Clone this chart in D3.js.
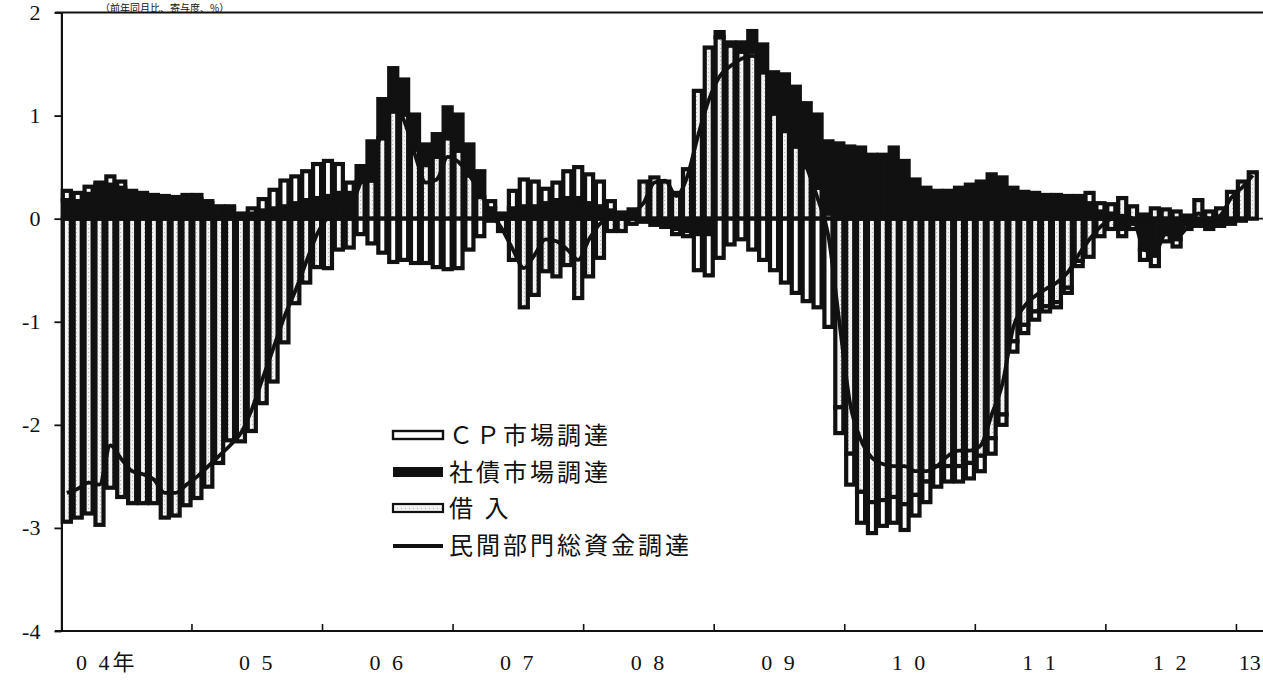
<!DOCTYPE html>
<html>
<head>
<meta charset="utf-8">
<script src="https://d3js.org/d3.v7.min.js"></script>
<style>
  body { margin: 0; background: #fff; }
  text { fill: #111; }
</style>
</head>
<body>
<div id="chart"></div>
<script>
const width = 1263, height = 686

// months 2004/1 .. 2013/2
const startYear = 2004, nMonths = 110
const months = d3.range(nMonths).map(i => (startYear + Math.floor(i / 12)) + "-" + (i % 12 + 1))
const yearLabels = ["0 4年", "0 5", "0 6", "0 7", "0 8", "0 9", "1 0", "1 1", "1 2", "13"]
const yTicks = [-4, -3, -2, -1, 0, 1, 2]

// contributions (%pt)
const cp = [
  0.09,0.08,0.07,0.02,0.08,0.06,0.02,0.01,0.01,0.01,0.01,0.04,
  0.04,0.02,0.00,0.02,0.02,0.05,0.11,0.18,0.25,0.26,0.28,0.33,
  0.34,0.28,0.10,-0.15,-0.24,-0.33,-0.42,-0.40,-0.43,-0.43,-0.47,-0.49,
  -0.48,-0.30,-0.17,0.07,0.00,0.17,0.26,0.24,0.14,0.17,0.26,0.30,
  0.28,0.24,0.09,0.02,0.04,0.00,0.00,0.00,-0.05,-0.05,-0.35,-0.40,
  -0.38,-0.25,-0.20,-0.30,-0.40,-0.50,-0.62,-0.72,-0.80,-0.86,-1.05,-0.25,
  -0.30,-0.30,-0.30,-0.25,-0.25,-0.25,-0.20,-0.20,-0.20,-0.15,-0.15,-0.15,
  -0.15,-0.15,-0.10,-0.10,-0.08,-0.08,-0.05,-0.05,-0.05,-0.05,0.10,0.08,
  0.09,-0.07,-0.05,-0.10,-0.10,-0.07,-0.07,-0.05,-0.03,-0.04,-0.03,-0.02,
  0.00,0.00
]
const bond = [
  0.18,0.17,0.24,0.33,0.33,0.30,0.25,0.24,0.22,0.21,0.20,0.19,
  0.19,0.15,0.12,0.10,0.03,0.05,0.08,0.10,0.12,0.15,0.18,0.20,
  0.22,0.25,0.25,0.15,0.38,0.38,0.42,0.34,0.34,0.20,0.22,0.30,
  0.35,0.30,0.25,0.10,0.05,0.10,0.12,0.12,0.15,0.18,0.20,0.20,
  0.15,0.12,0.08,0.04,0.05,-0.03,-0.06,-0.08,-0.10,-0.12,-0.15,-0.15,
  0.05,0.03,0.09,0.20,0.27,0.40,0.55,0.58,0.62,0.71,0.70,0.73,
  0.70,0.69,0.62,0.62,0.69,0.56,0.38,0.30,0.27,0.27,0.30,0.33,
  0.36,0.43,0.40,0.30,0.26,0.25,0.23,0.23,0.22,0.22,0.15,0.07,
  0.05,-0.10,-0.05,-0.30,-0.36,-0.15,-0.20,-0.05,-0.04,-0.06,-0.04,-0.03,
  -0.02,0.00
]
const borrow = [
  -2.94,-2.90,-2.86,-2.97,-2.61,-2.70,-2.76,-2.76,-2.76,-2.90,-2.88,-2.78,
  -2.71,-2.60,-2.37,-2.15,-2.16,-2.06,-1.79,-1.58,-1.20,-0.82,-0.62,-0.47,
  -0.48,-0.30,-0.28,0.36,0.37,0.78,1.04,1.01,0.67,0.52,0.60,0.78,
  0.66,0.42,0.21,-0.02,-0.12,-0.40,-0.86,-0.74,-0.51,-0.56,-0.45,-0.77,
  -0.56,-0.38,-0.12,-0.12,-0.05,0.36,0.40,0.36,0.25,0.48,1.24,1.66,
  1.76,1.68,1.62,1.62,1.42,1.02,0.85,0.70,0.50,0.30,0.05,-1.83,
  -2.28,-2.65,-2.75,-2.73,-2.70,-2.77,-2.68,-2.55,-2.40,-2.40,-2.40,-2.37,
  -2.30,-2.13,-1.90,-1.19,-1.03,-0.90,-0.85,-0.81,-0.67,-0.41,-0.37,-0.17,
  -0.10,0.20,0.12,0.04,0.10,0.09,0.07,0.03,0.18,0.07,0.10,0.26,
  0.36,0.45
]
const total = [
  -2.66,-2.62,-2.56,-2.58,-2.20,-2.33,-2.45,-2.48,-2.53,-2.66,-2.66,-2.58,
  -2.50,-2.40,-2.30,-2.20,-2.08,-1.85,-1.55,-1.25,-0.95,-0.70,-0.42,-0.15,
  0.02,0.15,0.12,0.35,0.55,0.85,1.10,0.95,0.62,0.35,0.38,0.60,
  0.55,0.42,0.25,0.05,-0.10,-0.30,-0.48,-0.35,-0.20,-0.22,-0.30,-0.40,
  -0.20,-0.05,0.00,0.00,0.05,0.15,0.35,0.37,0.22,0.40,0.80,1.15,
  1.38,1.48,1.55,1.58,1.50,1.30,1.05,0.78,0.50,0.20,-0.17,-1.00,
  -1.80,-2.15,-2.32,-2.38,-2.40,-2.40,-2.45,-2.45,-2.40,-2.30,-2.25,-2.25,
  -2.20,-1.90,-1.60,-1.05,-0.85,-0.75,-0.68,-0.62,-0.52,-0.35,-0.20,-0.08,
  0.00,0.03,0.00,-0.30,-0.33,-0.15,-0.18,-0.08,0.05,0.00,0.03,0.20,
  0.30,0.42
]

const legendLabels = ["ＣＰ市場調達", "社債市場調達", "借 入", "民間部門総資金調達"]

const rows = months.map((m, i) => ({ month: m, borrow: borrow[i], bond: bond[i], cp: cp[i] }))

const svg = d3.select("#chart").append("svg")
  .attr("width", width)
  .attr("height", height)
  .style("background", "#fff")

const x0 = 61.4, step = 10.88
const x = d3.scaleBand()
  .domain(months)
  .range([x0, x0 + step * nMonths])
  .paddingInner(0.26)
  .paddingOuter(0.13)
// month boundaries
const xm = d3.scaleLinear().domain([0, nMonths]).range([x0, x0 + step * nMonths])

const y = d3.scaleLinear().domain([-4, 2]).range([631, 12.5])

const defs = svg.append("defs")
const pat = defs.append("pattern")
  .attr("id", "hatch")
  .attr("patternUnits", "userSpaceOnUse")
  .attr("width", 4).attr("height", 4)
pat.append("rect").attr("width", 4).attr("height", 4).attr("fill", "#f2f2f2")
pat.append("rect").attr("width", 1).attr("height", 1).attr("fill", "#b5b5b5")

// title (sits just above the frame)
svg.append("text")
  .attr("x", 100).attr("y", 11.8)
  .style("font-family", "'Noto Sans CJK JP', sans-serif")
  .style("font-size", "10px")
  .text("（前年同月比、寄与度、%）")

// stacked bars
const stack = d3.stack()
  .keys(["borrow", "bond", "cp"])
  .offset(d3.stackOffsetDiverging)
const series = stack(rows)
const fills = { borrow: "url(#hatch)", bond: "#111", cp: "#fff" }

svg.append("g")
  .selectAll("g")
  .data(series)
  .join("g")
    .attr("fill", d => fills[d.key])
  .selectAll("rect")
  .data(d => d.filter(p => p[1] !== p[0]))
  .join("rect")
    .attr("x", d => x(d.data.month))
    .attr("y", d => y(Math.max(d[0], d[1])))
    .attr("width", x.bandwidth())
    .attr("height", d => Math.abs(y(d[0]) - y(d[1])))
    .attr("stroke", "#111")
    .attr("stroke-width", 4.2)

// zero line
svg.append("line")
  .attr("x1", x0).attr("x2", width)
  .attr("y1", y(0)).attr("y2", y(0))
  .attr("stroke", "#111").attr("stroke-width", 1.6)

// total line
const line = d3.line()
  .x((d, i) => x(months[i]) + x.bandwidth() / 2)
  .y(d => y(d))
  .curve(d3.curveMonotoneX)
svg.append("path")
  .datum(total)
  .attr("fill", "none")
  .attr("stroke", "#111")
  .attr("stroke-width", 3.8)
  .attr("stroke-linejoin", "round")
  .attr("d", line)

// frame: top line
svg.append("line")
  .attr("x1", 55).attr("x2", width).attr("y1", y(2)).attr("y2", y(2))
  .attr("stroke", "#111").attr("stroke-width", 2)

// y axis
const yAxis = d3.axisLeft(y)
  .tickValues(yTicks)
  .tickFormat(d => String(d))
  .tickSize(7)
  .tickSizeOuter(0)
  .tickPadding(14)
const gy = svg.append("g")
  .attr("transform", "translate(" + x0 + ",0)")
  .call(yAxis)
gy.select(".domain").attr("stroke", "#111").attr("stroke-width", 2.2)
gy.selectAll(".tick line").attr("stroke", "#111").attr("stroke-width", 1.8)
gy.selectAll("text")
  .style("font-family", "'Liberation Serif', serif")
  .style("font-size", "22px")
  .attr("fill", "#111")

// x axis
const years = d3.range(yearLabels.length)
const gx = svg.append("g")
svg.append("line")
  .attr("x1", 55).attr("x2", width).attr("y1", y(-4)).attr("y2", y(-4))
  .attr("stroke", "#111").attr("stroke-width", 2.2)
gx.selectAll("line")
  .data(years.slice(1))
  .join("line")
    .attr("x1", d => xm(d * 12)).attr("x2", d => xm(d * 12))
    .attr("y1", y(-4)).attr("y2", y(-4) - 7)
    .attr("stroke", "#111").attr("stroke-width", 1.6)
gx.selectAll("text")
  .data(years)
  .join("text")
    .attr("x", d => {
      const a = xm(d * 12), b = Math.min(xm(d * 12 + 12), width)
      return (a + b) / 2 + (d === 0 ? -20 : 0)
    })
    .attr("y", 670)
    .attr("text-anchor", "middle")
    .style("font-family", "'Liberation Serif', 'Noto Sans CJK JP', serif")
    .style("font-size", "22px")
    .style("letter-spacing", d => d === yearLabels.length - 1 ? "0px" : "3px")
    .text(d => yearLabels[d])

// legend
const lg = svg.append("g").attr("transform", "translate(393,0)")
const rowY = [437, 474, 510, 547]
lg.append("rect").attr("x", 0).attr("y", rowY[0] - 6).attr("width", 50).attr("height", 8)
  .attr("fill", "#fff").attr("stroke", "#111").attr("stroke-width", 2.4)
lg.append("rect").attr("x", 0).attr("y", rowY[1] - 7).attr("width", 50).attr("height", 10)
  .attr("fill", "#111")
lg.append("rect").attr("x", 0).attr("y", rowY[2] - 6).attr("width", 50).attr("height", 8)
  .attr("fill", "url(#hatch)").attr("stroke", "#111").attr("stroke-width", 2.2)
lg.append("line").attr("x1", 0).attr("x2", 50).attr("y1", rowY[3] - 1).attr("y2", rowY[3] - 1)
  .attr("stroke", "#111").attr("stroke-width", 4)
lg.selectAll("text")
  .data(legendLabels)
  .join("text")
    .attr("x", 56)
    .attr("y", (d, i) => rowY[i])
    .attr("dominant-baseline", "middle")
    .style("font-family", "'Noto Sans CJK JP', sans-serif")
    .style("font-size", "24px")
    .style("letter-spacing", "3px")
    .text(d => d)
</script>
</body>
</html>
